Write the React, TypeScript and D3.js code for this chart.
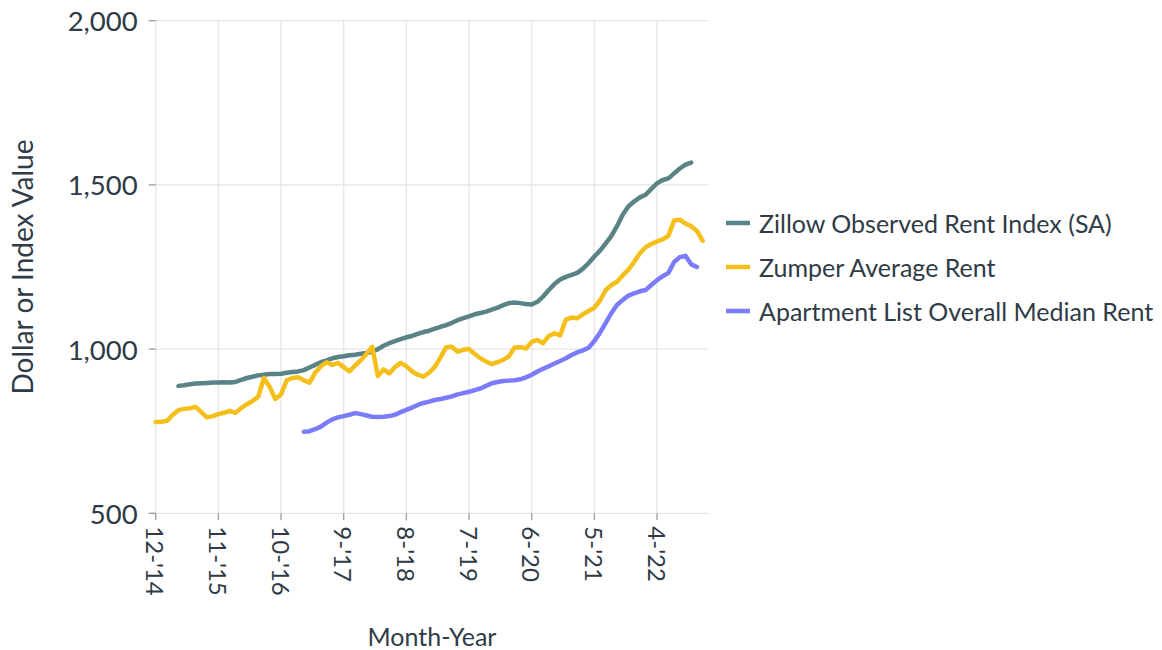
import * as d3 from 'd3';

// month index 0 = Dec 2014
const zillowStart = 4;
const zillow = [
  888, 890, 893, 895, 896, 897, 898, 898, 899, 898, 900, 906, 912, 916, 920, 922, 924, 924, 925, 928,
  930, 932, 936, 944, 952, 960, 966, 972, 976, 978, 981, 983, 986, 988, 992, 1000, 1010, 1018, 1024, 1030,
  1036, 1040, 1046, 1052, 1056, 1062, 1068, 1073, 1080, 1088, 1094, 1100, 1106, 1110, 1114, 1120, 1126, 1134, 1140, 1142,
  1140, 1137, 1136, 1144, 1160, 1180, 1198, 1212, 1220, 1226, 1232, 1245, 1262, 1282, 1300, 1322, 1345, 1375, 1410, 1435,
  1450, 1462, 1470, 1488, 1505, 1515, 1520, 1535, 1550, 1562, 1568,
];

const zumperStart = 0;
const zumper = [
  778, 779, 782, 800, 814, 818, 820, 824, 808, 792, 796, 802, 806, 812, 806, 820, 832, 842, 855, 912,
  885, 848, 862, 905, 912, 914, 905, 898, 928, 948, 960, 952, 958, 945, 932, 950, 966, 985, 1007, 918,
  938, 926, 945, 958, 948, 932, 922, 916, 928, 946, 975, 1006, 1007, 992, 998, 1000, 985, 972, 962, 954,
  960, 967, 978, 1005, 1006, 1002, 1022, 1028, 1018, 1040, 1048, 1042, 1090, 1096, 1094, 1106, 1116, 1126, 1148, 1180,
  1195, 1205, 1225, 1242, 1266, 1292, 1310, 1320, 1328, 1334, 1345, 1392, 1394, 1382, 1374, 1360, 1330,
];

const aptListStart = 26;
const aptList = [
  748, 750, 756, 764, 776, 786, 792, 796, 800, 805, 802, 798, 794, 793, 794, 796, 800, 808, 815, 822,
  830, 836, 840, 845, 848, 852, 856, 862, 866, 870, 875, 880, 888, 896, 900, 903, 904, 905, 908, 914,
  922, 932, 940, 948, 956, 964, 972, 982, 990, 996, 1004, 1025, 1050, 1080, 1110, 1135, 1150, 1163, 1170, 1176,
  1180, 1195, 1210, 1222, 1232, 1265, 1280, 1284, 1258, 1250,
];

const yTicks = [500, 1000, 1500, 2000];
const xTickIdx = [0, 11, 22, 33, 44, 55, 66, 77, 88];
const monthCount = 97;

const series = [
  { name: 'Zillow Observed Rent Index (SA)', color: '#5a8388', start: zillowStart, values: zillow },
  { name: 'Zumper Average Rent', color: '#f4bf1a', start: zumperStart, values: zumper },
  { name: 'Apartment List Overall Median Rent', color: '#7b7bfb', start: aptListStart, values: aptList },
];

const monthLabel = (m: number) => {
  const t = 11 + m;
  const month = (t % 12) + 1;
  const year = 2014 + Math.floor(t / 12);
  return `${month}-'${String(year).slice(2)}`;
};

const W = 1162;
const H = 650;
const margins = { top: 20.7, left: 155.7, right: 708.3, bottom: 513.3 };
const textColor = '#2f3b46';
const font = 'Lato, "Open Sans", sans-serif';

const App = () => {
  const x = d3.scaleLinear().domain([0, monthCount]).range([margins.left, margins.right]);
  const y = d3.scaleLinear().domain([500, 2000]).range([margins.bottom, margins.top]);
  const line = d3
    .line<{ m: number; v: number }>()
    .x(d => x(d.m))
    .y(d => y(d.v))
    .curve(d3.curveLinear);

  return (
    <svg
      width={W}
      height={H}
      viewBox={`0 0 ${W} ${H}`}
      style={{ position: 'absolute', left: 0, top: 0, background: '#fff' }}
      fontFamily={font}
    >
      {/* grid */}
      {yTicks.map(t => (
        <line key={'gy' + t} x1={margins.left} x2={margins.right} y1={y(t)} y2={y(t)} stroke="#e5e5e5" strokeWidth={1.3} />
      ))}
      {xTickIdx.map(m => (
        <line key={'gx' + m} x1={x(m)} x2={x(m)} y1={margins.top} y2={margins.bottom} stroke="#e5e5e5" strokeWidth={1.3} />
      ))}

      {/* y axis */}
      {yTicks.map(t => (
        <g key={'ty' + t}>
          <line x1={margins.left - 7} x2={margins.left} y1={y(t)} y2={y(t)} stroke="#9a9a9a" strokeWidth={1.3} />
          <text
            x={margins.left - 18}
            y={y(t)}
            textAnchor="end"
            dominantBaseline="central"
            fontSize={27.5}
            fill={textColor}
          >
            {d3.format(',')(t)}
          </text>
        </g>
      ))}

      {/* x axis */}
      {xTickIdx.map(m => (
        <g key={'tx' + m}>
          <line x1={x(m)} x2={x(m)} y1={margins.bottom} y2={margins.bottom + 7} stroke="#9a9a9a" strokeWidth={1.3} />
          <text
            transform={`translate(${x(m)}, ${margins.bottom + 13}) rotate(90)`}
            dominantBaseline="central"
            fontSize={24}
            fill={textColor}
          >
            {monthLabel(m)}
          </text>
        </g>
      ))}

      {/* lines */}
      {series.map(s => (
        <path
          key={s.name}
          d={line(s.values.map((v, i) => ({ m: s.start + i, v }))) || ''}
          fill="none"
          stroke={s.color}
          strokeWidth={4.5}
          strokeLinejoin="round"
          strokeLinecap="round"
        />
      ))}

      {/* axis titles */}
      <text x={432} y={636} textAnchor="middle" dominantBaseline="central" fontSize={25} fill={textColor}>
        Month-Year
      </text>
      <text
        transform={`translate(22, 267) rotate(-90)`}
        textAnchor="middle"
        dominantBaseline="central"
        fontSize={28}
        fill={textColor}
      >
        Dollar or Index Value
      </text>

      {/* legend */}
      {series.map((s, i) => (
        <g key={'lg' + s.name} transform={`translate(726, ${223 + i * 44})`}>
          <line x1={0} x2={24} y1={0} y2={0} stroke={s.color} strokeWidth={4.5} />
          <text x={33} y={0} dominantBaseline="central" fontSize={25} fill={textColor}>
            {s.name}
          </text>
        </g>
      ))}
    </svg>
  );
};

export default App;
